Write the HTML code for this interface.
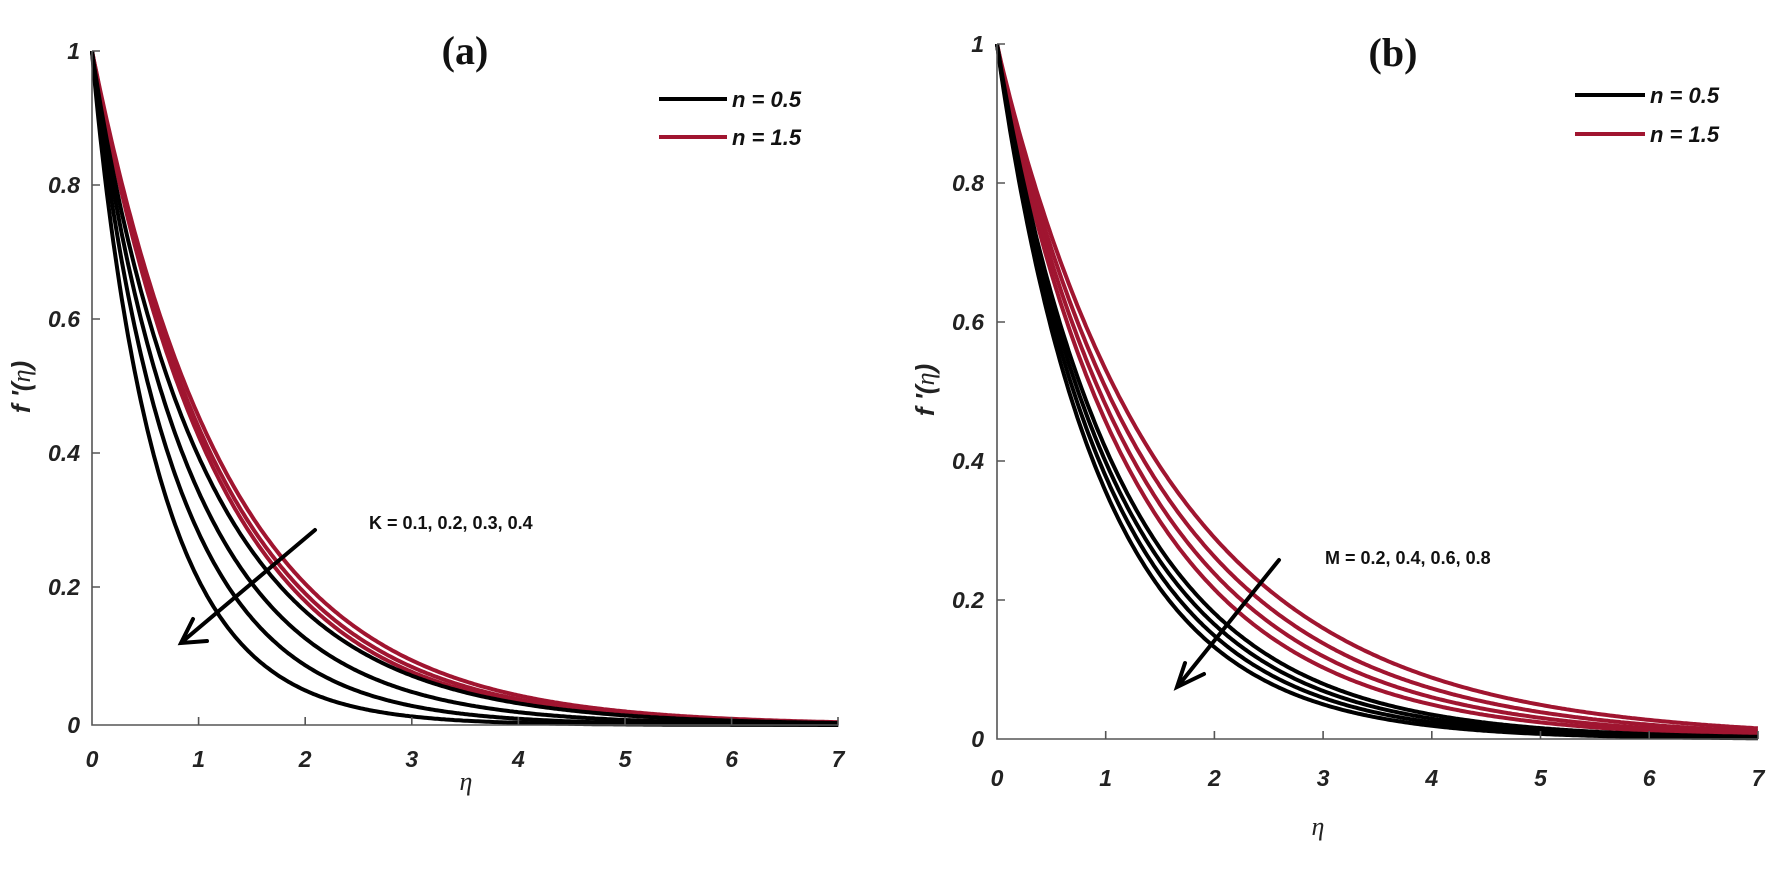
<!DOCTYPE html>
<html><head><meta charset="utf-8"><style>
html,body{margin:0;padding:0;background:#fff;}
svg{display:block;}
.tk{font-family:"Liberation Sans",sans-serif;font-weight:bold;font-style:italic;font-size:23px;fill:#222;}
.lg{font-family:"Liberation Sans",sans-serif;font-weight:bold;font-style:italic;font-size:22px;fill:#111;}
.ann{font-family:"Liberation Sans",sans-serif;font-weight:bold;font-size:18px;fill:#111;}
.ttl{font-family:"Liberation Serif",serif;font-weight:bold;font-size:40px;fill:#111;}
.eta{font-family:"Liberation Serif",serif;font-style:italic;font-size:26px;fill:#222;}
</style></head><body>
<svg id="s" width="1770" height="871" viewBox="0 0 1770 871" xmlns="http://www.w3.org/2000/svg">
<g id="curves"></g>
<g stroke="#555" stroke-width="1.6" fill="none">
<path d="M92,51 V725 H838"/>
<path d="M92,51 h8 M92,185 h8 M92,319 h8 M92,453 h8 M92,587 h8"/>
<path d="M198.6,725 v-8 M305.2,725 v-8 M411.8,725 v-8 M518.4,725 v-8 M625,725 v-8 M731.6,725 v-8 M838,725 v-8"/>
<path d="M997,44 V739 H1758"/>
<path d="M997,44 h8 M997,183 h8 M997,322 h8 M997,461 h8 M997,600 h8"/>
<path d="M1105.7,739 v-8 M1214.4,739 v-8 M1323.1,739 v-8 M1431.8,739 v-8 M1540.5,739 v-8 M1649.2,739 v-8 M1758,739 v-8"/>
</g>
<g class="tk" text-anchor="end">
<text x="80" y="59">1</text><text x="80" y="193">0.8</text><text x="80" y="327">0.6</text>
<text x="80" y="461">0.4</text><text x="80" y="595">0.2</text><text x="80" y="733">0</text>
</g>
<g class="tk" text-anchor="middle">
<text x="92" y="767">0</text><text x="198.6" y="767">1</text><text x="305.2" y="767">2</text><text x="411.8" y="767">3</text>
<text x="518.4" y="767">4</text><text x="625" y="767">5</text><text x="731.6" y="767">6</text><text x="838" y="767">7</text>
</g>
<g class="tk" text-anchor="end">
<text x="984" y="52">1</text><text x="984" y="191">0.8</text><text x="984" y="330">0.6</text>
<text x="984" y="469">0.4</text><text x="984" y="608">0.2</text><text x="984" y="747">0</text>
</g>
<g class="tk" text-anchor="middle">
<text x="997" y="786">0</text><text x="1105.7" y="786">1</text><text x="1214.4" y="786">2</text><text x="1323.1" y="786">3</text>
<text x="1431.8" y="786">4</text><text x="1540.5" y="786">5</text><text x="1649.2" y="786">6</text><text x="1758" y="786">7</text>
</g>
<text class="tk" style="font-size:26px" transform="translate(30,387) rotate(-90)" text-anchor="middle">f '(<tspan font-family="Liberation Serif" font-weight="normal">η</tspan>)</text>
<text class="tk" style="font-size:26px" transform="translate(934,390) rotate(-90)" text-anchor="middle">f '(<tspan font-family="Liberation Serif" font-weight="normal">η</tspan>)</text>
<text class="eta" x="466" y="790" text-anchor="middle">η</text>
<text class="eta" x="1318" y="835" text-anchor="middle">η</text>
<text class="ttl" x="465" y="64" text-anchor="middle">(a)</text>
<text class="ttl" x="1393" y="66" text-anchor="middle">(b)</text>
<line x1="659" y1="99" x2="727" y2="99" stroke="#000" stroke-width="4"/>
<line x1="659" y1="137" x2="727" y2="137" stroke="#a01530" stroke-width="4"/>
<text class="lg" x="732" y="107">n = 0.5</text>
<text class="lg" x="732" y="145">n = 1.5</text>
<line x1="1575" y1="95" x2="1645" y2="95" stroke="#000" stroke-width="4"/>
<line x1="1575" y1="134" x2="1645" y2="134" stroke="#a01530" stroke-width="4"/>
<text class="lg" x="1650" y="103">n = 0.5</text>
<text class="lg" x="1650" y="142">n = 1.5</text>
<text class="ann" x="369" y="529">K = 0.1, 0.2, 0.3, 0.4</text>
<text class="ann" x="1325" y="564">M = 0.2, 0.4, 0.6, 0.8</text>
<g stroke="#000" stroke-width="4" fill="none" stroke-linecap="round">
<line x1="315" y1="530" x2="182" y2="642"/>
<path d="M193,619 L181,643 L207,641"/>
<line x1="1279" y1="560" x2="1178" y2="686"/>
<path d="M1185,663 L1177,687 L1204,674"/>
</g>
</svg>
<script>
(function(){
 var g=document.getElementById('curves');
 function curve(x0,y0,ux,uy,eta2,p,color){
   var a=Math.log(5)/Math.pow(eta2,p), d='';
   for(var i=0;i<=350;i++){var e=7*i/350;var f=Math.exp(-a*Math.pow(e,p));
     d+=(i?'L':'M')+(x0+e*ux).toFixed(1)+','+(y0-f*uy).toFixed(1);}
   var el=document.createElementNS('http://www.w3.org/2000/svg','path');
   el.setAttribute('d',d);el.setAttribute('fill','none');el.setAttribute('stroke',color);
   el.setAttribute('stroke-width','4');el.setAttribute('stroke-linejoin','round');g.appendChild(el);
 }
 var R='#a01530',K='#000';
 [1.9,1.97,2.06].forEach(function(e){curve(92,725,106.6,674,e,1.0,R);});
 [1.05,1.3,1.55,1.8].forEach(function(e){curve(92,725,106.6,674,e,0.95,K);});
 [2.1,2.25,2.42,2.62].forEach(function(e){curve(997,739,108.7,695,e,0.97,R);});
 [1.58,1.68,1.78,1.88].forEach(function(e){curve(997,739,108.7,695,e,0.97,K);});
})();
</script>
</body></html>
